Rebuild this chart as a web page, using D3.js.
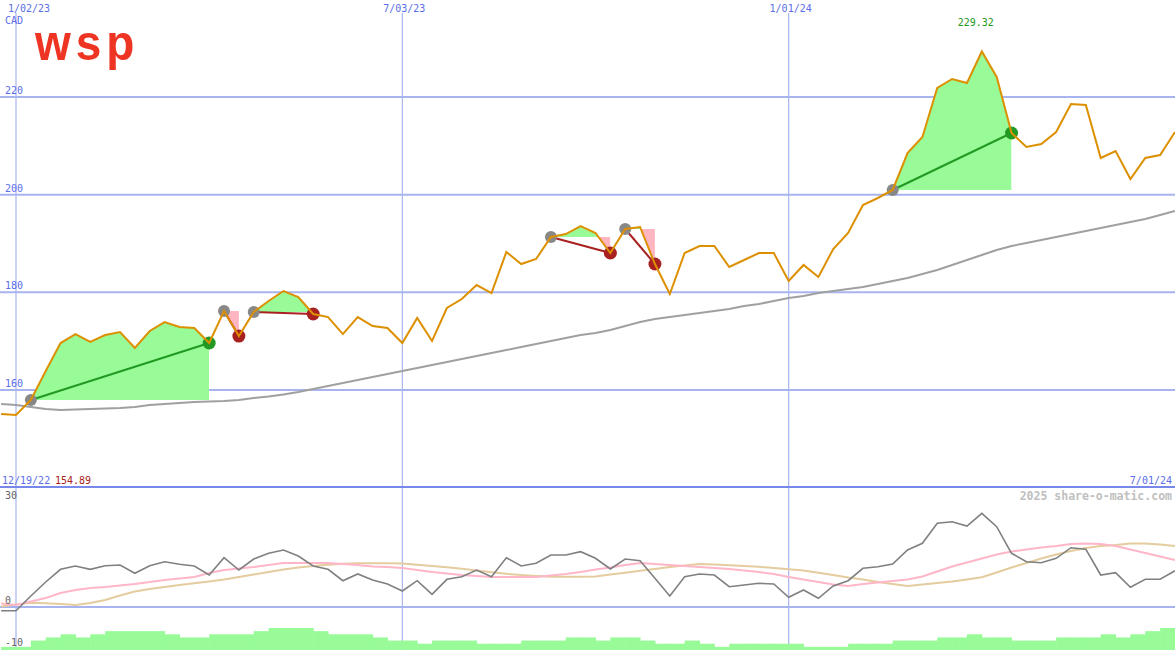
<!DOCTYPE html>
<html>
<head>
<meta charset="utf-8">
<script src="https://cdn.jsdelivr.net/npm/d3@7"></script>
<style>
  body { margin: 0; background: #fff; }
  svg { display: block; }
  text { font-family: "DejaVu Sans Mono", monospace; font-size: 10px; }
</style>
</head>
<body>
<div id="chart"></div>
<script>
// weekly closes, first week 12/26/22
var firstWeek = "2022-12-26";
var lastDate = "2024-07-01";
var prices = [155.08, 154.89, 157.95, 163.89, 169.62, 171.46, 169.83, 171.26, 171.87, 168.60,
    172.08, 173.92, 172.90, 172.69, 169.62, 176.17, 171.05, 175.97, 178.22, 180.27,
    179.04, 175.56, 174.94, 171.46, 174.94, 173.10, 172.69, 169.62, 174.74, 170.03,
    176.79, 178.63, 181.50, 179.86, 188.26, 185.80, 186.82, 191.33, 191.94, 193.58,
    192.15, 188.05, 192.97, 193.38, 185.80, 179.66, 188.05, 189.49, 189.49, 185.19,
    186.62, 188.05, 188.05, 182.32, 185.60, 183.14, 188.87, 192.15, 197.88, 199.32,
    200.96, 208.53, 211.81, 221.84, 223.69, 222.87, 229.32, 224.10, 212.63, 209.76,
    210.37, 212.83, 218.57, 218.36, 207.51, 208.94, 203.21, 207.51, 208.12, 212.83];
var longAvg = [157.13, 156.92, 156.51, 156.10, 155.90, 156.00, 156.10, 156.21, 156.31, 156.51,
    156.92, 157.13, 157.33, 157.54, 157.64, 157.74, 157.95, 158.36, 158.67, 159.08,
    159.59, 160.20, 160.82, 161.43, 162.04, 162.66, 163.27, 163.89, 164.50, 165.12,
    165.73, 166.35, 166.96, 167.57, 168.19, 168.80, 169.42, 170.03, 170.65, 171.26,
    171.67, 172.28, 173.10, 173.92, 174.54, 174.94, 175.35, 175.76, 176.17, 176.58,
    177.20, 177.61, 178.22, 178.84, 179.25, 179.86, 180.27, 180.68, 181.09, 181.70,
    182.32, 182.93, 183.75, 184.57, 185.60, 186.62, 187.64, 188.67, 189.49, 190.10,
    190.71, 191.33, 191.94, 192.56, 193.17, 193.79, 194.40, 195.02, 195.83, 196.65];

// lower panel
var osc = [-1.06, -1.06, 3.14, 7.14, 10.77, 11.71, 10.77, 11.8, 12.0, 9.63,
    11.8, 12.94, 12.2, 11.71, 9.14, 14.09, 10.57, 13.71, 15.34, 16.29,
    14.57, 11.71, 10.77, 7.51, 9.43, 7.71, 6.57, 4.57, 7.51, 3.63,
    7.91, 8.66, 10.57, 8.66, 14.09, 11.71, 12.49, 14.86, 14.86, 15.8,
    13.91, 10.86, 13.71, 13.23, 8.2, 3.14, 8.66, 9.43, 9.14, 5.8,
    6.29, 6.77, 6.57, 2.77, 4.86, 2.49, 6.0, 7.51, 11.06, 11.51,
    12.29, 16.29, 18.2, 23.91, 24.37, 23.14, 26.77, 22.94, 15.34, 12.94,
    12.66, 13.91, 16.94, 16.49, 9.14, 9.8, 5.63, 7.91, 7.91, 10.37];
var oscFast = [1.0, 0.57, 1.57, 2.57, 4.0, 4.86, 5.43, 5.71, 6.14, 6.57,
    7.14, 7.71, 8.14, 8.57, 9.71, 10.57, 11.0, 11.43, 12.0, 12.57,
    12.57, 12.57, 12.57, 12.29, 12.0, 11.57, 11.43, 11.14, 10.57, 10.0,
    9.57, 9.14, 8.86, 8.57, 8.57, 8.57, 8.57, 9.0, 9.43, 10.0,
    10.71, 11.29, 12.0, 12.57, 12.29, 12.0, 11.71, 11.43, 11.14, 10.86,
    10.43, 10.0, 9.43, 8.57, 7.86, 7.14, 6.43, 6.0, 6.57, 7.0,
    7.43, 7.86, 8.71, 10.14, 11.57, 12.71, 13.86, 15.0, 15.86, 16.43,
    17.0, 17.43, 18.0, 18.14, 18.0, 17.43, 16.43, 15.43, 14.43, 13.43];
var oscSlow = [0.14, 0.71, 1.23, 1.06, 0.86, 0.57, 1.14, 2.0, 3.29, 4.43,
    5.14, 5.71, 6.29, 6.77, 7.29, 7.86, 8.57, 9.29, 10.0, 10.71,
    11.29, 11.71, 12.06, 12.34, 12.49, 12.49, 12.49, 12.43, 12.09, 11.71,
    11.34, 10.91, 10.43, 9.94, 9.49, 9.14, 8.86, 8.66, 8.66, 8.66,
    8.71, 9.29, 9.8, 10.34, 10.86, 11.43, 11.86, 12.29, 12.14, 11.94,
    11.71, 11.49, 11.14, 10.77, 10.43, 9.77, 9.14, 8.43, 7.86, 7.14,
    6.57, 6.0, 6.43, 6.86, 7.29, 7.86, 8.49, 9.86, 11.29, 12.57,
    13.86, 15.0, 16.0, 16.86, 17.43, 17.71, 18.14, 18.14, 17.86, 17.43];
var histo = [1, 1, 3, 4, 5, 4, 5, 6, 6, 6, 6, 5, 4, 4, 5, 5, 5, 6, 7, 7,
    7, 6, 5, 5, 5, 4, 3, 3, 2, 3, 3, 3, 2, 2, 2, 3, 3, 3, 4, 4,
    3, 4, 4, 3, 2, 2, 3, 2, 1, 2, 2, 2, 2, 2, 1, 1, 1, 2, 2, 2,
    3, 3, 3, 4, 4, 5, 4, 4, 3, 3, 3, 4, 4, 4, 5, 4, 5, 6, 7];

// trades (week index of entry / exit)
var tradeIn = [2, 15, 17, 37, 42, 60];
var tradeOut = [14, 16, 21, 41, 44, 68];

var gridDates = ["2023-01-02", "2023-07-03", "2024-01-01"];
var gridLabels = ["1/02/23", "7/03/23", "1/01/24"];
var priceTicks = [160, 180, 200, 220];
var oscTicks = [30, 0, -10];

var width = 1175, height = 650, split = 487;
var gridColor = "#a8b4f0";

var svg = d3.select("#chart").append("svg").attr("width", width).attr("height", height);
svg.append("rect").attr("width", width).attr("height", height).attr("fill", "#fff");

var weeks = prices.map(function(d, i) { return d3.utcWeek.offset(new Date(firstWeek), i); });

var x = d3.scaleUtc().domain([new Date(gridDates[0]), new Date(lastDate)]).range([16, width]);
var y = d3.scaleLinear().domain([160, 220]).range([390, 97]);
var yo = d3.scaleLinear().domain([-10, 30]).range([642, 502]);
var yh = d3.scaleLinear().domain([0, 7]).range([650, 628]);

var defs = svg.append("defs");
defs.append("clipPath").attr("id", "top").append("rect").attr("width", width).attr("height", split);
defs.append("clipPath").attr("id", "bottom").append("rect").attr("y", split).attr("width", width).attr("height", height - split);

// grid
svg.selectAll("line.vgrid").data(gridDates).enter().append("line")
    .attr("class", "vgrid")
    .attr("x1", function(d) { return x(new Date(d)); })
    .attr("x2", function(d) { return x(new Date(d)); })
    .attr("y1", 13).attr("y2", height)
    .style("stroke", gridColor).style("stroke-width", 1.2);

svg.selectAll("line.hgrid").data(priceTicks).enter().append("line")
    .attr("class", "hgrid")
    .attr("x1", 0).attr("x2", width)
    .attr("y1", function(d) { return y(d); })
    .attr("y2", function(d) { return y(d); })
    .style("stroke", gridColor).style("stroke-width", 2);

svg.append("line").attr("x1", 0).attr("x2", width).attr("y1", yo(0)).attr("y2", yo(0))
    .style("stroke", gridColor).style("stroke-width", 2);

svg.append("line").attr("x1", 0).attr("x2", width).attr("y1", split).attr("y2", split)
    .style("stroke", "#7888ea").style("stroke-width", 2);

// logo
svg.append("text")
    .attr("transform", "translate(35,60) scale(1,1.1)")
    .style("font-family", "'Liberation Sans', Arial, sans-serif")
    .style("font-size", "46px")
    .style("font-weight", "bold")
    .style("letter-spacing", "5px")
    .style("fill", "#ee3524")
    .text("wsp");

// histogram
var lower = svg.append("g").attr("clip-path", "url(#bottom)");
lower.selectAll("rect.bar").data(histo).enter().append("rect")
    .attr("class", "bar")
    .attr("x", function(d, i) { return x(weeks[i]); })
    .attr("width", function(d, i) { return x(weeks[i + 1]) - x(weeks[i]) + 0.5; })
    .attr("y", function(d) { return yh(d); })
    .attr("height", function(d) { return height - yh(d); })
    .style("fill", "#98fb98");

var oscLine = function(arr) {
    return d3.line().x(function(d, i) { return x(weeks[i]); }).y(function(d) { return yo(d); })(arr);
};
lower.append("path").attr("d", oscLine(oscSlow)).style("fill", "none").style("stroke", "#e4cc9e").style("stroke-width", 2);
lower.append("path").attr("d", oscLine(oscFast)).style("fill", "none").style("stroke", "#ffb6c8").style("stroke-width", 2);
lower.append("path").attr("d", oscLine(osc)).style("fill", "none").style("stroke", "#808080").style("stroke-width", 1.6);

// main panel
var main = svg.append("g").attr("clip-path", "url(#top)");

tradeIn.forEach(function(a, k) {
    var b = tradeOut[k];
    var idx = d3.range(a, b + 1);
    var yIn = y(prices[a]);
    var area = d3.area()
        .x(function(i) { return x(weeks[i]); })
        .y0(yIn)
        .y1(function(i) { return y(prices[i]); });
    var x0 = x(weeks[a]), x1 = x(weeks[b]);
    defs.append("clipPath").attr("id", "up" + k).append("rect")
        .attr("x", x0).attr("y", 0).attr("width", x1 - x0).attr("height", yIn);
    defs.append("clipPath").attr("id", "dn" + k).append("rect")
        .attr("x", x0).attr("y", yIn).attr("width", x1 - x0).attr("height", split - yIn);
    main.append("path").attr("d", area(idx)).attr("clip-path", "url(#up" + k + ")").style("fill", "#98fb98");
    main.append("path").attr("d", area(idx)).attr("clip-path", "url(#dn" + k + ")").style("fill", "#ffb6c1");
});

main.append("path")
    .attr("d", d3.line().x(function(d, i) { return x(weeks[i]); }).y(function(d) { return y(d); })(longAvg))
    .style("fill", "none").style("stroke", "#a0a0a0").style("stroke-width", 2);

tradeIn.forEach(function(a, k) {
    var b = tradeOut[k];
    var win = prices[b] > prices[a];
    main.append("line")
        .attr("x1", x(weeks[a])).attr("y1", y(prices[a]))
        .attr("x2", x(weeks[b])).attr("y2", y(prices[b]))
        .style("stroke", win ? "#229922" : "#a82020").style("stroke-width", 2);
    main.append("circle").attr("cx", x(weeks[a])).attr("cy", y(prices[a])).attr("r", 6)
        .style("fill", "#888");
    main.append("circle").attr("cx", x(weeks[b])).attr("cy", y(prices[b])).attr("r", 6.5)
        .style("fill", win ? "#229922" : "#a82020");
});

main.append("path")
    .attr("d", d3.line().x(function(d, i) { return x(weeks[i]); }).y(function(d) { return y(d); })(prices))
    .style("fill", "none").style("stroke", "#dc9000").style("stroke-width", 2);

// labels
var blue = "#5a6ee8";
svg.selectAll("text.plabel").data(priceTicks).enter().append("text")
    .attr("class", "plabel")
    .attr("x", 5).attr("y", function(d) { return y(d) - 3; })
    .style("fill", blue).text(function(d) { return d; });

svg.selectAll("text.dlabel").data(gridDates).enter().append("text")
    .attr("class", "dlabel")
    .attr("x", function(d) { return Math.max(x(new Date(d)) + 2, 29); })
    .attr("y", 12)
    .attr("text-anchor", "middle")
    .style("fill", blue).text(function(d, i) { return gridLabels[i]; });

svg.append("text").attr("x", 5).attr("y", 24).style("fill", blue).text("CAD");

svg.selectAll("text.olabel").data(oscTicks).enter().append("text")
    .attr("class", "olabel")
    .attr("x", 5)
    .attr("y", function(d) { return d < 0 ? yo(d) + 4 : yo(d) - 3; })
    .style("fill", "#666").text(function(d) { return d === 30 ? " 30" : d; });

var lowIdx = d3.minIndex(prices);
var highIdx = d3.maxIndex(prices);
svg.append("text").attr("x", 2).attr("y", 484).style("fill", blue).text("12/19/22");
svg.append("text").attr("x", 55).attr("y", 484).style("fill", "#a82020").text(prices[lowIdx].toFixed(2));
svg.append("text").attr("x", width - 3).attr("y", 484).attr("text-anchor", "end").style("fill", blue).text("7/01/24");

svg.append("text").attr("x", x(weeks[highIdx]) - 6).attr("y", 26).attr("text-anchor", "middle")
    .style("fill", "#229922").text(prices[highIdx].toFixed(2));

svg.append("text").attr("x", width - 3).attr("y", 500).attr("text-anchor", "end")
    .style("font-size", "11.5px").style("font-weight", "bold").style("fill", "#c0c0c0")
    .text("2025 share-o-matic.com");
</script>
</body>
</html>
